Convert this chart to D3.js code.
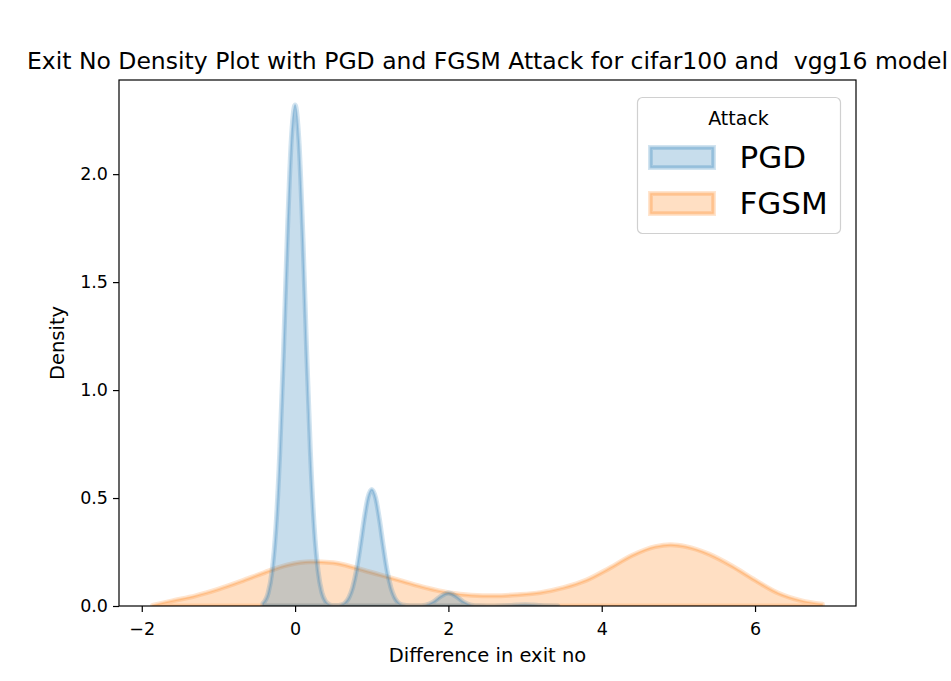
<!DOCTYPE html>
<html>
<head>
<meta charset="utf-8">
<script src="https://cdn.jsdelivr.net/npm/d3@7"></script>
<style>
  body { margin: 0; background: #fff; }
  svg { display: block; font-family: 'DejaVu Sans', sans-serif; }
</style>
</head>
<body>
<svg id="chart" width="951" height="681"></svg>
<script>
// values
const pgdX = [-0.42, -0.35, -0.3, -0.25, -0.2, -0.15, -0.1, -0.05, 0, 0.05, 0.1, 0.15, 0.2, 0.25, 0.3, 0.35, 0.4, 0.45,
  0.5, 0.55, 0.6, 0.65, 0.7, 0.75, 0.8, 0.85, 0.9, 0.95, 1.0, 1.05, 1.1, 1.15, 1.2, 1.25, 1.3, 1.35, 1.4, 1.5, 1.6,
  1.7, 1.8, 1.9, 2.0, 2.1, 2.2, 2.3, 2.4, 2.6, 2.8, 2.9, 3.0, 3.1, 3.2, 3.43];
const pgdDensity = [0.012, 0.062, 0.162, 0.364, 0.71, 1.19, 1.73, 2.155, 2.32, 2.155, 1.73, 1.19, 0.71, 0.364, 0.162,
  0.062, 0.02, 0.006, 0.002, 0.002, 0.005, 0.014, 0.038, 0.085, 0.165, 0.278, 0.402, 0.502, 0.54, 0.502, 0.402, 0.278,
  0.165, 0.085, 0.038, 0.014, 0.005, 0.001, 0.001, 0.004, 0.018, 0.045, 0.06, 0.045, 0.018, 0.004, 0.001, 0.0, 0.002,
  0.0045, 0.006, 0.0045, 0.002, 0.0];

const fgsmX = [-1.86, -1.6, -1.3, -1.0, -0.7, -0.4, -0.1, 0.2, 0.5, 0.8, 1.1, 1.4, 1.7, 2.0, 2.3, 2.6, 2.9, 3.2, 3.5,
  3.8, 4.1, 4.4, 4.7, 4.9, 5.1, 5.4, 5.7, 6.0, 6.3, 6.6, 6.88];
const fgsmDensity = [0.003, 0.024, 0.047, 0.078, 0.115, 0.155, 0.19, 0.205, 0.2, 0.175, 0.145, 0.115, 0.085, 0.062,
  0.05, 0.047, 0.052, 0.062, 0.085, 0.12, 0.175, 0.235, 0.275, 0.284, 0.275, 0.24, 0.185, 0.12, 0.06, 0.025, 0.008];

const attackNames = ['PGD', 'FGSM'];
const attackColors = ['#1f77b4', '#ff7f0e'];
const xTicks = [-2, 0, 2, 4, 6];
const yTicks = [0, 0.5, 1.0, 1.5, 2.0];

const svg = d3.select('#chart');
const margin = { left: 119, right: 95, top: 80, bottom: 75 };
const width = 951;
const height = 681;

const series = [
  { name: attackNames[0], color: attackColors[0], points: pgdX.map((x, i) => ({ x, y: pgdDensity[i] })) },
  { name: attackNames[1], color: attackColors[1], points: fgsmX.map((x, i) => ({ x, y: fgsmDensity[i] })) },
];

const allX = pgdX.concat(fgsmX);
const [xMin, xMax] = d3.extent(allX);
const xPad = (xMax - xMin) * 0.05;
const yMax = d3.max(pgdDensity.concat(fgsmDensity)) * 1.05;

const x = d3.scaleLinear().domain([xMin - xPad, xMax + xPad]).range([margin.left, width - margin.right]);
const y = d3.scaleLinear().domain([0, yMax]).range([height - margin.bottom, margin.top]);

svg.append('defs').append('clipPath').attr('id', 'plotClip')
  .append('rect')
  .attr('x', margin.left).attr('y', margin.top)
  .attr('width', width - margin.left - margin.right)
  .attr('height', height - margin.top - margin.bottom);

const area = d3.area()
  .x((d) => x(d.x))
  .y0(y(0))
  .y1((d) => y(d.y))
  .curve(d3.curveMonotoneX);

const plot = svg.append('g').attr('clip-path', 'url(#plotClip)');

// seaborn draws hues in reverse order, so FGSM goes below PGD
series.slice().reverse().forEach((s) => {
  const g = plot.append('g');
  g.append('path')
    .attr('d', area(s.points))
    .attr('fill', s.color)
    .attr('fill-opacity', 0.25)
    .attr('stroke', s.color)
    .attr('stroke-opacity', 0.2)
    .attr('stroke-width', 5)
    .attr('stroke-linejoin', 'round');
  g.append('path')
    .attr('d', area(s.points))
    .attr('fill', 'none')
    .attr('stroke', s.color)
    .attr('stroke-opacity', 0.22)
    .attr('stroke-width', 2)
    .attr('stroke-linejoin', 'round');
});

// axes
const xAxis = svg.append('g')
  .attr('transform', `translate(0,${height - margin.bottom})`)
  .call(d3.axisBottom(x).tickValues(xTicks).tickFormat(d3.format('d')).tickSize(6).tickPadding(5));
const yAxis = svg.append('g')
  .attr('transform', `translate(${margin.left},0)`)
  .call(d3.axisLeft(y).tickValues(yTicks).tickFormat(d3.format('.1f')).tickSize(6).tickPadding(5));

[xAxis, yAxis].forEach((ax) => {
  ax.select('.domain').remove();
  ax.selectAll('.tick line').attr('stroke', '#000').attr('stroke-width', 1.2);
  ax.selectAll('.tick text')
    .attr('fill', '#000')
    .style('font-family', "'DejaVu Sans', sans-serif")
    .style('font-size', '17.5px');
});
xAxis.selectAll('.tick text').attr('dy', '1.0em');

svg.append('rect')
  .attr('x', margin.left).attr('y', margin.top)
  .attr('width', width - margin.left - margin.right)
  .attr('height', height - margin.top - margin.bottom)
  .attr('fill', 'none')
  .attr('stroke', '#000')
  .attr('stroke-width', 1.2);

// labels
svg.append('text')
  .attr('x', (margin.left + width - margin.right) / 2)
  .attr('y', 69)
  .attr('text-anchor', 'middle')
  .style('font-size', '23.5px')
  .text('Exit No Density Plot with PGD and FGSM Attack for cifar100 and\u00a0 vgg16 model');

svg.append('text')
  .attr('x', (margin.left + width - margin.right) / 2)
  .attr('y', 662)
  .attr('text-anchor', 'middle')
  .style('font-size', '19.5px')
  .text('Difference in exit no');

svg.append('text')
  .attr('transform', `translate(64,${(margin.top + height - margin.bottom) / 2}) rotate(-90)`)
  .attr('text-anchor', 'middle')
  .style('font-size', '19.5px')
  .text('Density');

// legend
const legend = svg.append('g').attr('transform', 'translate(637.5,97.5)');
legend.append('rect')
  .attr('width', 203).attr('height', 136).attr('rx', 5)
  .attr('fill', '#fff').attr('fill-opacity', 0.8)
  .attr('stroke', '#d0d0d0').attr('stroke-width', 1.2);
legend.append('text')
  .attr('x', 101).attr('y', 27)
  .attr('text-anchor', 'middle')
  .style('font-size', '19px')
  .text('Attack');

series.forEach((s, i) => {
  const row = legend.append('g').attr('transform', `translate(0,${50 + i * 46})`);
  row.append('rect')
    .attr('x', 13).attr('y', 0).attr('width', 63).attr('height', 20)
    .attr('fill', s.color).attr('fill-opacity', 0.25)
    .attr('stroke', s.color).attr('stroke-opacity', 0.2).attr('stroke-width', 5);
  row.append('rect')
    .attr('x', 13).attr('y', 0).attr('width', 63).attr('height', 20)
    .attr('fill', 'none')
    .attr('stroke', s.color).attr('stroke-opacity', 0.22).attr('stroke-width', 2);
  row.append('text')
    .attr('x', 102).attr('y', 20.5)
    .style('font-size', '31px')
    .text(s.name);
});
</script>
</body>
</html>
